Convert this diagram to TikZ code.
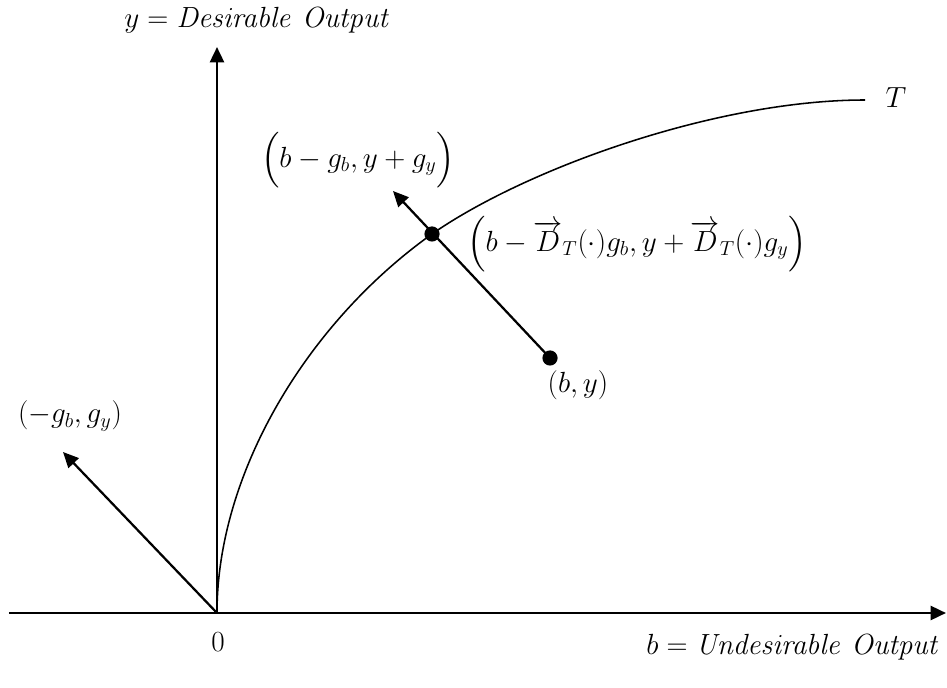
\documentclass[tikz,border=0pt]{standalone}
\usepackage{amsmath,amssymb}
\usetikzlibrary{arrows.meta}

\begin{document}
\begin{tikzpicture}[x=0.25cm,y=0.25cm,
  every node/.style={font=\fontsize{22}{26}\selectfont},
  axis/.style={line width=1.9pt,-{Triangle[length=11pt,width=10pt]}},
  vec/.style={line width=1.6pt,-{Triangle[length=11pt,width=10pt]}},
  dot/.style={circle,fill=black,inner sep=0pt,minimum size=0.38cm}]
  \useasboundingbox (-21.7,-7.4) rectangle (73.0,61.3);
  \coordinate (origin) at (0,0);
  \coordinate (xstart) at (-20.8,0);
  \coordinate (xend) at (72.9,0);
  \coordinate (yend) at (0,56.6);
  \draw[axis] (xstart) -- (xend);
  \draw[axis] (origin) -- (yend);
  % technology frontier
  \node[dot] (onfront) at (21.5,37.9) {};
  \node[dot] (obs) at (33.3,25.5) {};
  \coordinate (frontend) at (64.8,51.3);
  \draw[line width=1.1pt]
    (origin) .. controls (0,14) and (9,29) .. (onfront.center)
    .. controls (31,44.5) and (50,51.3) .. (frontend);
  \coordinate (dirtip) at (17.6,42.2);
  \coordinate (gtip) at (-15.4,16.1);
  \draw[vec] (obs.center) -- (dirtip);
  \draw[vec] (origin) -- (gtip);
  \node (ylabel) at (4.05,59.3) {$y = \mathit{Desirable\ Output}$};
  \node[anchor=east] (xlabel) at (72.8,-3.4) {$b = \mathit{Undesirable\ Output}$};
  \node (zero) at (0.1,-2.9) {$0$};
  \node (tlabel) at (67.9,51.5) {$T$};
  \node (dirlabel) at (14.1,45.3) {$\Bigl(b - g_b, y + g_y\Bigr)$};
  \node (projlabel) at (42.0,36.9)
    {$\Bigl(b - \overrightarrow{D}_T(\cdot) g_b, y + \overrightarrow{D}_T(\cdot) g_y\Bigr)$};
  \node (obslabel) at (36.1,22.8) {$(b, y)$};
  \node (glabel) at (-14.7,19.7) {$(-g_b, g_y)$};
\end{tikzpicture}
\end{document}
